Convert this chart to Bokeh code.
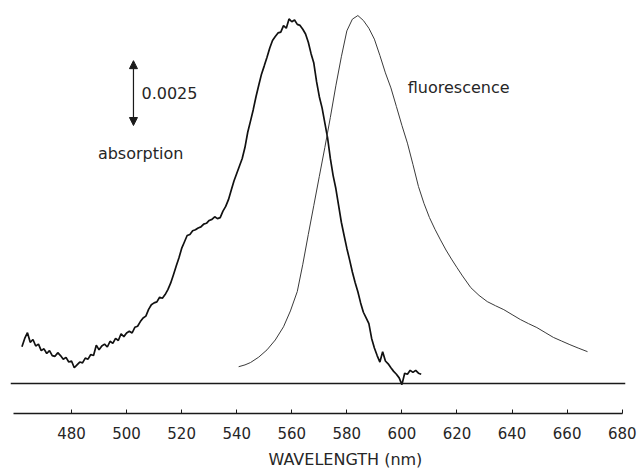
from bokeh.plotting import figure
from bokeh.models import Range1d, FixedTicker, Span, Arrow, NormalHead, Label, Title
from bokeh.embed import file_html
from bokeh.resources import INLINE

# absorption spectrum (absorbance x 10^-3), 1 nm steps
abs_wavelength = list(range(462, 608))
abs_values = [
    1.42, 1.74, 1.96, 1.59, 1.70, 1.45, 1.52, 1.27, 1.34, 1.16,
    1.27, 1.08, 1.05, 1.19, 1.08, 0.94, 1.01, 0.83, 0.87, 0.61,
    0.72, 0.83, 0.80, 0.98, 0.94, 1.12, 1.08, 1.48, 1.30, 1.45,
    1.52, 1.41, 1.63, 1.55, 1.74, 1.66, 1.92, 1.81, 1.95, 2.02,
    1.95, 2.17, 2.21, 2.39, 2.53, 2.60, 2.86, 3.04, 3.11, 3.15,
    3.33, 3.29, 3.43, 3.62, 3.87, 4.19, 4.52, 4.84, 5.21, 5.46,
    5.71, 5.75, 5.89, 5.93, 6.00, 6.04, 6.15, 6.18, 6.29, 6.33,
    6.43, 6.36, 6.40, 6.65, 6.83, 7.09, 7.45, 7.81, 8.10, 8.39,
    8.68, 9.11, 9.69, 10.12, 10.56, 11.06, 11.50, 11.93, 12.25, 12.58,
    12.94, 13.23, 13.38, 13.52, 13.55, 13.80, 13.70, 14.06, 13.95, 14.02,
    13.85, 13.81, 13.66, 13.48, 13.16, 12.72, 12.36, 11.64, 11.06, 10.63,
    10.05, 9.47, 8.68, 8.03, 7.52, 6.87, 6.22, 5.71, 5.21, 4.77,
    4.30, 3.90, 3.54, 3.11, 2.75, 2.53, 2.31, 1.74, 1.37, 1.08,
    0.83, 1.23, 0.87, 0.76, 0.61, 0.47, 0.36, 0.22, -0.04, 0.40,
    0.36, 0.51, 0.43, 0.51, 0.40, 0.36,
]

# fluorescence spectrum (arbitrary units, same vertical scale)
fl_wavelength = [
    540.7, 543, 545, 548, 551, 554, 557, 559.5, 562, 564,
    566, 568, 570, 572, 574, 576, 578, 580, 582, 584,
    586, 588, 590, 592, 594, 596, 598, 600, 602, 604,
    606, 608, 610, 612, 614, 616, 618, 620, 622, 625,
    628, 631, 634, 637, 640, 643, 646, 649, 652, 655,
    658, 661, 664, 667.4,
]
fl_values = [
    0.65, 0.72, 0.81, 1.02, 1.30, 1.68, 2.19, 2.80, 3.55, 4.60,
    5.75, 6.87, 7.99, 9.10, 10.26, 11.48, 12.60, 13.60, 14.05, 14.19,
    14.00, 13.70, 13.28, 12.65, 11.98, 11.40, 10.68, 9.95, 9.27, 8.45,
    7.60, 6.95, 6.40, 5.95, 5.54, 5.15, 4.80, 4.47, 4.15, 3.70,
    3.40, 3.16, 3.00, 2.85, 2.66, 2.47, 2.31, 2.16, 1.97, 1.78,
    1.64, 1.50, 1.37, 1.23,
]

tick_values = [480, 500, 520, 540, 560, 580, 600, 620, 640, 660, 680]

# scale bar: 0.0025 absorbance = 2.5 units
scale_x = 502.5
scale_bottom = 9.95
scale_top = 12.45
scale_text = "0.0025"

FONT = "DejaVu Sans"
INK = "#1a1a1a"
TEXT = "#262626"

p = figure(width=639, height=474, output_backend="svg", toolbar_location=None,
           x_range=Range1d(457.84, 681.2), y_range=Range1d(-1.154, 14.77),
           y_axis_location=None, min_border_left=10, min_border_right=14,
           min_border_top=0, min_border_bottom=60)
p.outline_line_color = None
p.xgrid.visible = False
p.ygrid.visible = False
p.background_fill_color = "white"
p.border_fill_color = "white"

ax = p.xaxis[0]
ax.ticker = FixedTicker(ticks=tick_values)
ax.bounds = (458.9, 680.2)
ax.axis_line_color = INK
ax.axis_line_width = 1.5
ax.major_tick_in = 4
ax.major_tick_out = 0
ax.minor_tick_line_color = None
ax.major_tick_line_color = INK
ax.major_label_standoff = 13
ax.major_label_text_font = FONT
ax.major_label_text_font_size = "15px"
ax.major_label_text_color = TEXT

p.add_layout(Title(text="WAVELENGTH (nm)", align="left", offset=258,
                   text_font=FONT, text_font_size="16px", text_font_style="normal",
                   text_color=TEXT, standoff=12), "below")

p.add_layout(Span(location=0, dimension="width", line_color=INK, line_width=1.5))

p.line(abs_wavelength, abs_values, line_color="#111111", line_width=1.7)
p.line(fl_wavelength, fl_values, line_color="#3a3a3a", line_width=1.0)

head = dict(size=8, fill_color=INK, line_color=INK, line_width=1)
p.add_layout(Arrow(start=NormalHead(**head), end=NormalHead(**head),
                   x_start=scale_x, y_start=scale_bottom, x_end=scale_x, y_end=scale_top,
                   line_color=INK, line_width=1.2))

p.add_layout(Label(x=505.4, y=(scale_bottom + scale_top) / 2, text=scale_text,
                   text_baseline="middle", text_align="left", text_font=FONT,
                   text_font_size="16px", text_color=TEXT))
p.add_layout(Label(x=505.1, y=8.88, text="absorption", text_baseline="middle",
                   text_align="center", text_font=FONT, text_font_size="16px",
                   text_color=TEXT))
p.add_layout(Label(x=620.6, y=11.42, text="fluorescence", text_baseline="middle",
                   text_align="center", text_font=FONT, text_font_size="16px",
                   text_color=TEXT))

open("out.html", "w").write(file_html(p, INLINE))
